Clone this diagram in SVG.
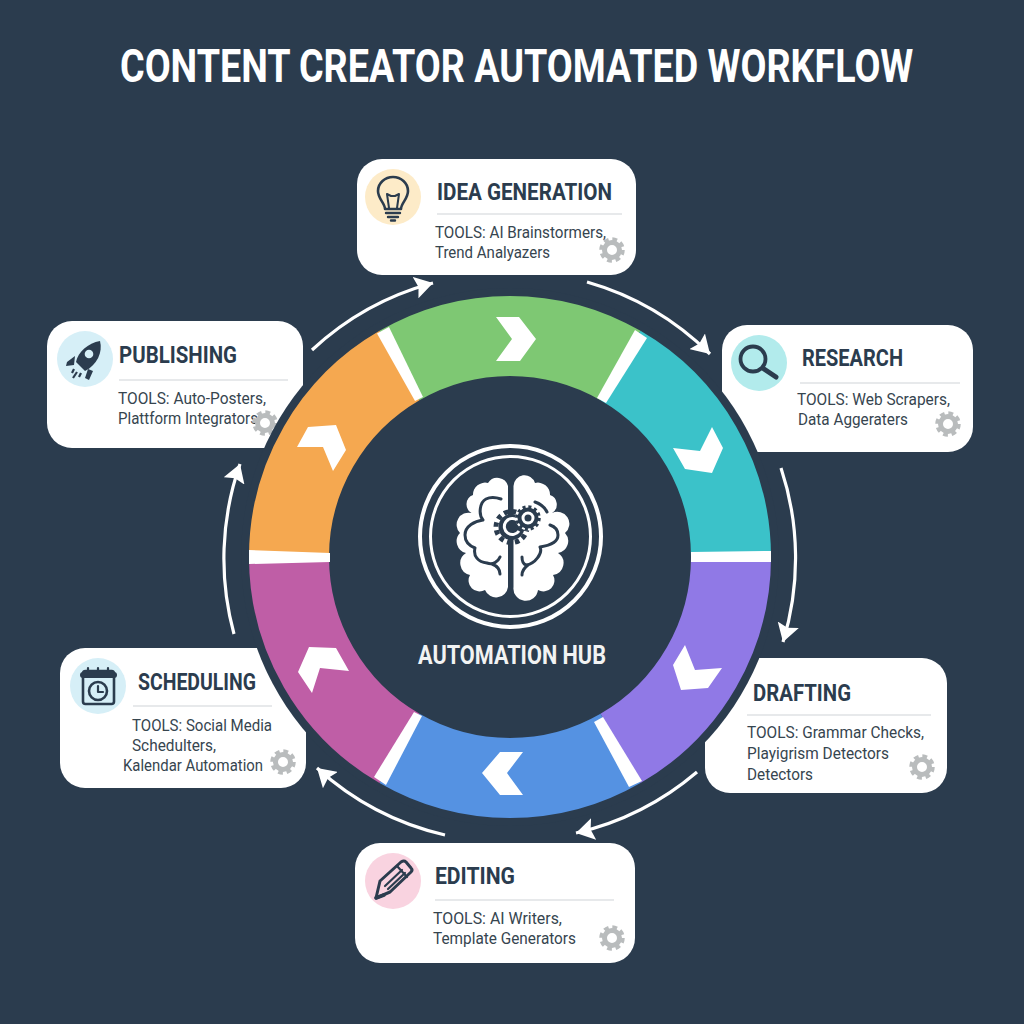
<svg xmlns="http://www.w3.org/2000/svg" width="1024" height="1024" viewBox="0 0 1024 1024">
<style>
.card{fill:#fff}
.t{font-family:Roboto,"Liberation Sans",sans-serif;font-weight:700;font-size:24px;fill:#2b3c4e}
.b{font-family:Roboto,"Liberation Sans",sans-serif;font-size:16.500px;fill:#36454f}
.r{stroke:#dfe2e4;stroke-width:1.500}
.ic{fill:none;stroke:#2b3c4e;stroke-width:3;stroke-linecap:round;stroke-linejoin:round}
.sol{fill:#2b3c4e}
.seg{fill:none;stroke-width:80}
.chev{fill:#fff}
.gap{fill:#fff}
.conn{fill:none;stroke:#fff;stroke-width:3.200;marker-end:url(#ah)}
.brl{fill:none;stroke:#2b3c4e;stroke-width:3;stroke-linecap:round;stroke-linejoin:round}
</style>
<defs>
<marker id="ah" markerUnits="userSpaceOnUse" markerWidth="20" markerHeight="22" refX="18" refY="11" orient="auto"><path d="M0 0L18 11L0 22L3 11Z" fill="#fff"/></marker>
<g id="gear"><circle r="7.500" fill="none" stroke="#b9bcbd" stroke-width="5"/><circle r="10.500" fill="none" stroke="#b9bcbd" stroke-width="4.500" stroke-dasharray="4.600 3.650"/></g>
</defs>
<rect width="1024" height="1024" fill="#2b3c4e"/>
<text transform="translate(120 82) scale(.819 1)" font-family="Roboto,'Liberation Sans',sans-serif" font-weight="700" font-size="46" fill="#fff">CONTENT CREATOR AUTOMATED WORKFLOW</text>

<g id="idea-generation">
<rect class="card" x="357" y="159" width="279" height="116" rx="25"/>
<circle cx="393" cy="197" r="28" fill="#fdebc8"/>
<g class="ic"><path stroke-width="2.600" d="M385 209C385 203 378 199 378 191C378 183 385 177 393 177C401 177 408 183 408 191C408 199 401 203 401 209Z"/><path stroke-width="2" d="M389 208L387 194L391 196L395 196L399 194L397 208"/><path stroke-width="2.400" d="M386 213H400M388 217H398M391 220.500H395"/></g>
<text class="t" x="437" y="200" textLength="175" lengthAdjust="spacingAndGlyphs">IDEA GENERATION</text>
<line class="r" x1="437" y1="214" x2="622" y2="214"/>
<text class="b" x="435" y="238" textLength="171" lengthAdjust="spacingAndGlyphs">TOOLS: AI Brainstormers,</text>
<text class="b" x="435" y="258" textLength="115" lengthAdjust="spacingAndGlyphs">Trend Analyazers</text>
<use href="#gear" x="612" y="250"/>
</g>

<g id="research">
<rect class="card" x="722" y="325" width="251" height="127" rx="25"/>
<circle cx="759" cy="363" r="28" fill="#b2ebec"/>
<g class="ic"><circle cx="753" cy="359" r="12.500" stroke-width="3.800"/><path d="M764 369L776 377" stroke-width="5"/></g>
<text class="t" x="802" y="366" textLength="101" lengthAdjust="spacingAndGlyphs">RESEARCH</text>
<line class="r" x1="800" y1="383" x2="960" y2="383"/>
<text class="b" x="797" y="405" textLength="153" lengthAdjust="spacingAndGlyphs">TOOLS: Web Scrapers,</text>
<text class="b" x="798" y="425" textLength="110" lengthAdjust="spacingAndGlyphs">Data Aggeraters</text>
<use href="#gear" x="948" y="424"/>
</g>

<g id="drafting">
<rect class="card" x="705" y="658" width="242" height="135" rx="25"/>
<text class="t" x="753" y="701" textLength="98" lengthAdjust="spacingAndGlyphs">DRAFTING</text>
<line class="r" x1="747" y1="715" x2="931" y2="715"/>
<text class="b" x="747" y="738" textLength="177" lengthAdjust="spacingAndGlyphs">TOOLS: Grammar Checks,</text>
<text class="b" x="747" y="759" textLength="142" lengthAdjust="spacingAndGlyphs">Playigrism Detectors</text>
<text class="b" x="747" y="780" textLength="66" lengthAdjust="spacingAndGlyphs">Detectors</text>
<use href="#gear" x="922" y="767"/>
</g>

<g id="editing">
<rect class="card" x="355" y="843" width="280" height="120" rx="25"/>
<circle cx="393" cy="881" r="28" fill="#f9d3e0"/>
<g class="ic"><path d="M376 898L380 881L401 862Q404 860 406 862L411 868Q413 870 411 872L390 892Z"/><path stroke-width="2.200" d="M385 886L402 870M388 889L405 873M397 866L407 877"/><path d="M376 898L384 895" stroke-width="3.500"/></g>
<text class="t" x="435" y="884" textLength="80" lengthAdjust="spacingAndGlyphs">EDITING</text>
<line class="r" x1="435" y1="900" x2="614" y2="900"/>
<text class="b" x="433" y="924" textLength="129" lengthAdjust="spacingAndGlyphs">TOOLS: AI Writers,</text>
<text class="b" x="433" y="944" textLength="143" lengthAdjust="spacingAndGlyphs">Template Generators</text>
<use href="#gear" x="612" y="938"/>
</g>

<g id="scheduling">
<rect class="card" x="60" y="648" width="246" height="140" rx="25"/>
<circle cx="98" cy="686" r="28" fill="#d6eff7"/>
<g class="ic"><rect x="83" y="671" width="31" height="33" rx="2.500" stroke-width="2.600"/><path d="M83 675H114" stroke-width="6"/><path d="M88 668V671M98 668V671M108 668V671" stroke-width="2.200"/><circle cx="98" cy="691" r="9" stroke-width="2.600"/><path d="M98 686V692H103" stroke-width="2.200"/></g>
<text class="t" x="138" y="690" textLength="118" lengthAdjust="spacingAndGlyphs">SCHEDULING</text>
<line class="r" x1="133" y1="706" x2="272" y2="706"/>
<text class="b" x="132" y="731" textLength="140" lengthAdjust="spacingAndGlyphs">TOOLS: Social Media</text>
<text class="b" x="132" y="751" textLength="84" lengthAdjust="spacingAndGlyphs">Schedulters,</text>
<text class="b" x="123" y="771" textLength="140" lengthAdjust="spacingAndGlyphs">Kalendar Automation</text>
<use href="#gear" x="283" y="762"/>
</g>

<g id="publishing">
<rect class="card" x="47" y="321" width="256" height="127" rx="25"/>
<circle cx="85" cy="359" r="28" fill="#d6eff7"/>
<path class="sol" d="M100 341C103 352 97 365 85 371L76 362C78 352 88 343 100 341Z"/>
<circle cx="89" cy="354" r="4.300" fill="#d6eff7"/>
<path class="sol" d="M75 356L67 362L66 366L74 365ZM88 369L85 378L89 380L93 371Z"/>
<path d="M74 369L72 373M77 372L73 378M81 373L79 377" stroke="#2b3c4e" stroke-width="2.200" fill="none"/>
<text class="t" x="119" y="363" textLength="118" lengthAdjust="spacingAndGlyphs">PUBLISHING</text>
<line class="r" x1="119" y1="380" x2="288" y2="380"/>
<text class="b" x="118" y="404" textLength="148" lengthAdjust="spacingAndGlyphs">TOOLS: Auto-Posters,</text>
<text class="b" x="118" y="424" textLength="140" lengthAdjust="spacingAndGlyphs">Plattform Integrators</text>
<use href="#gear" x="265" y="423"/>
</g>

<g id="workflow-ring">
<circle cx="510" cy="557" r="269" fill="#2b3c4e"/>
<path class="seg" stroke="#7ec873" d="M399.500 365.500A221 221 0 0 1 620.500 365.500"/>
<path class="seg" stroke="#3bc2c9" d="M620.500 365.500A221 221 0 0 1 731 557"/>
<path class="seg" stroke="#9079e6" d="M731 557A221 221 0 0 1 620.500 748.400"/>
<path class="seg" stroke="#5592e2" d="M620.500 748.400A221 221 0 0 1 399.500 748.400"/>
<path class="seg" stroke="#bf5ea6" d="M399.500 748.400A221 221 0 0 1 289 557"/>
<path class="seg" stroke="#f5a850" d="M289 557A221 221 0 0 1 399.500 365.500"/>
<g class="gap">
<path d="M377 333.500L389 327L423 397L415 401Z"/>
<path d="M635 330L647 338L606 403L597 398Z"/>
<path d="M691 552L771 551V562L691 562Z"/>
<path d="M249 550L330 553V562L249 564Z"/>
<path d="M374 777L414 712L422 716L386 785Z"/>
<path d="M629 787L594 722L603 717L642 781Z"/>
</g>
<g class="chev">
<path d="M496 317L519 317L536 339L520 361L496 361L512 339Z"/>
<path d="M673 448L700 451L712 427L723 448L712 473L685 469Z"/>
<path d="M685 645L695 670L722 668L708 688L681 690L673 665Z"/>
<path d="M482 773L500 752L523 752L507 773L523 795L500 795Z"/>
<path d="M312 693L320 668L349 671L336 648L309 647L298 672Z"/>
<path d="M297 447L323 447L333 471L346 450L336 425L308 427Z"/>
</g>
</g>

<g id="automation-hub">
<circle cx="510.500" cy="536.500" r="90.500" fill="none" stroke="#fff" stroke-width="4"/>
<circle cx="510.500" cy="536.500" r="80" fill="none" stroke="#fff" stroke-width="3"/>
<path fill="#fff" d="M508 486A11 11 0 0 0 488 483A12 12 0 0 0 473 495A10 10 0 0 0 471.500 513A12 12 0 0 0 460 533A12 12 0 0 0 466 553A12 12 0 0 0 470 575A11 11 0 0 0 485 590A12 12 0 0 0 508 587Z"/>
<path fill="#fff" d="M513.500 486A11 11 0 0 1 535 483A12 12 0 0 1 550 495A10 10 0 0 1 552 513A12 12 0 0 1 565 533A12 12 0 0 1 558 553A12 12 0 0 1 553 575A11 11 0 0 1 538 590A12 12 0 0 1 513.500 587Z"/>
<g class="brl">
<path d="M501 499C495 497 490 497 486 499C480 502 478 514 483 520C475 521 465 526 465 535C465 542 470 546 475 548C473 556 478 562 487 563C493 565 498 562 500 557M492 564C497 566 500 570 500 574"/>
<path d="M535 502C541 504 545 508 547 512M550 525C556 527 558 531 558 535C558 541 553 545 540 547C543 553 535 564 526 565C523 564 522 560 522 557M528 565C524 568 522 571 522 575"/>
</g>
<circle cx="511.500" cy="527" r="13" fill="#2b3c4e"/>
<circle cx="511.500" cy="527" r="15.500" fill="none" stroke="#2b3c4e" stroke-width="5" stroke-dasharray="4.500 3.600"/>
<path d="M517 520A8 8 0 1 0 519 531" fill="none" stroke="#fff" stroke-width="3"/>
<circle cx="528" cy="518" r="12.500" fill="#fff"/>
<circle cx="528" cy="518" r="8.500" fill="none" stroke="#2b3c4e" stroke-width="4"/>
<circle cx="528" cy="518" r="3.500" fill="#2b3c4e"/>
<circle cx="528" cy="518" r="11" fill="none" stroke="#2b3c4e" stroke-width="3.500" stroke-dasharray="3 2.760"/>
<text x="418" y="664" font-family="Roboto,'Liberation Sans',sans-serif" font-weight="700" font-size="25" fill="#f2f3f3" textLength="188" lengthAdjust="spacingAndGlyphs">AUTOMATION HUB</text>
</g>

<g id="connectors">
<path class="conn" d="M312 350A286 286 0 0 1 433 283"/>
<path class="conn" d="M587 282A286 286 0 0 1 710 354"/>
<path class="conn" d="M781 468A286 286 0 0 1 783 642"/>
<path class="conn" d="M697 772A286 286 0 0 1 576 833"/>
<path class="conn" d="M445 835A286 286 0 0 1 317 768"/>
<path class="conn" d="M234 634A286 286 0 0 1 240 464"/>
</g>
</svg>
